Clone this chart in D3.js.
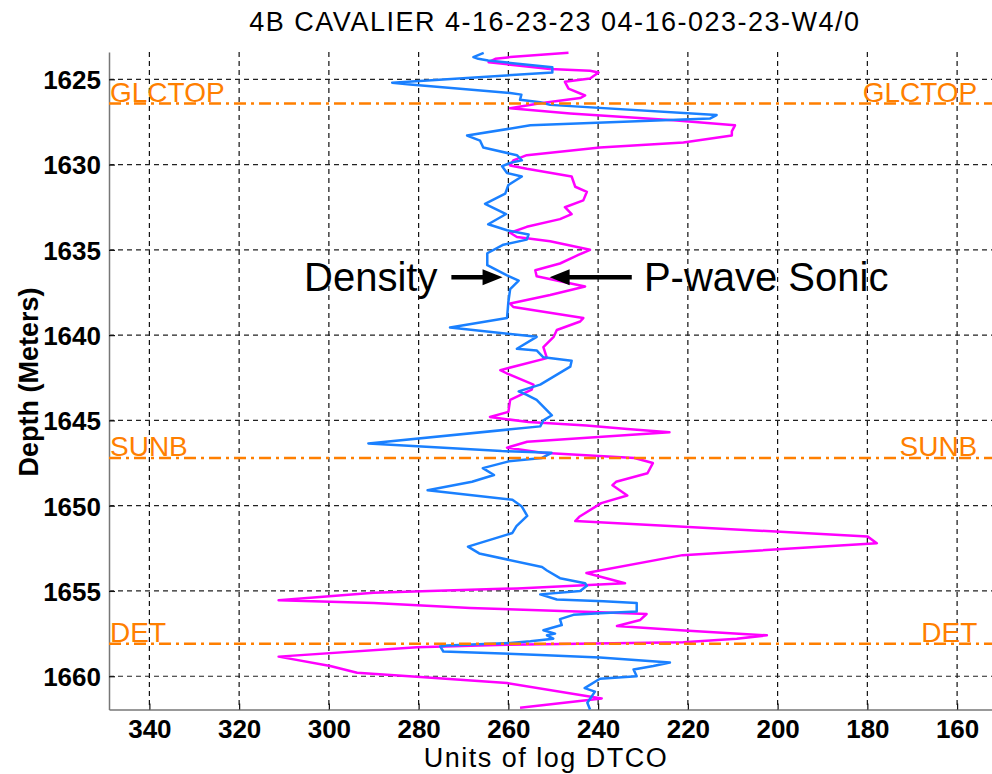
<!DOCTYPE html>
<html>
<head>
<meta charset="utf-8">
<script src="https://cdn.jsdelivr.net/npm/d3@7"></script>
<style>
  body { margin: 0; background: #fff; }
  svg { display: block; font-family: "Liberation Sans", Arial, Helvetica, sans-serif; }
</style>
</head>
<body>
<svg id="chart" width="992" height="774"></svg>
<script>
// density log (blue) - depth in m, value in log units
var densityDepth = [1623.45,1623.7,1623.8,1623.9,1624.3,1624.6,1625.2,1625.3,1625.8,1625.9,1626.2,1626.35,1626.5,1627.1,1627.3,1627.7,1628.3,1628.6,1629.0,1629.45,1629.75,1629.9,1630.1,1630.5,1630.7,1631.2,1631.7,1632.3,1632.9,1633.5,1633.85,1634.1,1634.4,1634.7,1635.2,1635.9,1636.5,1636.8,1637.3,1638.05,1639.0,1639.55,1640.1,1640.8,1640.9,1641.3,1641.5,1641.85,1642.9,1643.3,1643.5,1643.8,1644.7,1645.0,1645.35,1646.35,1646.8,1646.9,1647.2,1647.4,1647.8,1648.2,1648.6,1649.1,1649.65,1650.05,1650.6,1651.2,1651.6,1652.4,1652.8,1653.6,1653.8,1654.25,1654.55,1654.7,1655.0,1655.2,1655.5,1655.6,1655.7,1656.2,1656.3,1656.4,1656.65,1657.0,1657.3,1657.5,1657.6,1657.8,1657.95,1658.05,1658.2,1658.25,1658.55,1658.75,1658.9,1659.2,1659.4,1659.6,1660.0,1660.15,1660.7,1660.9,1661.55,1661.95];
var densityValue = [265.5,267.8,266.7,264.5,250.2,250.2,285.9,281.9,259.6,257.1,257.4,252.9,250.7,213.6,215.1,255.1,269.2,266.3,265.6,258.1,257.0,259.6,261.4,260.3,257.0,260.0,260.7,265.2,260.5,264.5,260.3,255.5,255.9,261.1,264.7,264.7,260.3,257.7,259.6,260.0,260.3,273.0,253.7,258.1,253.7,252.2,245.9,246.2,252.9,257.7,255.9,253.7,250.3,252.2,252.9,291.2,261.5,250.4,252.5,259.9,265.7,263.2,268.1,278.0,259.1,257.0,255.8,258.2,259.1,269.0,266.5,252.5,251.4,248.5,242.9,242.5,244.0,252.9,249.2,238.8,231.4,231.4,239.6,245.5,248.5,248.1,252.2,249.6,251.4,250.0,255.1,259.6,273.7,275.2,274.5,252.9,239.6,224.0,227.7,232.1,231.4,239.6,243.0,240.7,242.4,241.8];

// p-wave sonic log (magenta)
var sonicDepth = [1623.45,1623.7,1623.8,1624.0,1624.4,1624.5,1624.6,1624.95,1625.15,1625.55,1625.95,1626.1,1626.4,1626.7,1627.0,1627.4,1627.7,1628.05,1628.3,1628.7,1629.0,1629.45,1629.75,1630.05,1630.25,1630.7,1631.3,1631.6,1632.1,1632.5,1632.9,1633.2,1633.65,1634.0,1634.25,1634.5,1635.0,1635.3,1635.8,1636.2,1636.55,1637.15,1637.65,1638.15,1638.35,1639.0,1639.2,1639.7,1640.1,1640.7,1641.35,1642.05,1642.25,1642.9,1643.2,1643.8,1644.5,1644.8,1645.1,1645.3,1645.5,1645.7,1646.25,1646.6,1646.9,1647.2,1647.5,1648.1,1648.6,1648.8,1649.4,1649.85,1650.65,1650.9,1651.8,1652.2,1652.9,1653.95,1654.55,1654.85,1655.1,1655.55,1655.7,1656.0,1656.25,1656.35,1656.7,1657.05,1657.3,1657.6,1657.8,1658.0,1658.15,1658.3,1658.85,1659.4,1659.8,1660.05,1660.4,1661.3,1661.85];
var sonicValue = [246.6,259.6,262.9,264.4,250.7,241.8,239.9,241.8,247.4,246.6,242.9,244.0,252.9,259.6,246.2,223.2,209.5,210.2,210.2,221.0,239.6,255.9,258.9,259.6,255.9,245.9,245.1,242.5,243.3,247.4,245.9,248.5,255.9,259.6,258.1,250.7,241.8,244.4,248.5,254.0,253.7,242.9,250.7,259.6,258.9,243.3,244.0,249.2,249.9,252.2,251.4,261.8,260.3,254.4,254.8,259.6,260.0,264.1,255.5,242.6,233.5,224.1,255.8,260.3,252.5,231.9,227.8,229.0,236.0,236.8,233.5,239.3,244.2,245.1,180.0,177.9,221.2,242.6,234.0,258.0,290.0,311.2,290.0,268.5,239.6,229.2,230.6,235.8,221.7,202.4,209.1,221.0,260.3,280.4,311.2,299.7,293.7,279.6,260.3,239.2,257.4];

// formation tops
var topNames = ["GLCTOP", "SUNB", "DET"];
var topDepths = [1626.42, 1647.2, 1658.1];

var xTicks = [340, 320, 300, 280, 260, 240, 220, 200, 180, 160];
var yTicks = [1625, 1630, 1635, 1640, 1645, 1650, 1655, 1660];

var titleText = "4B CAVALIER 4-16-23-23 04-16-023-23-W4/0";

var svg = d3.select("#chart");

var x = d3.scaleLinear().domain([349, 152]).range([109, 993]);
var y = d3.scaleLinear().domain([1623.4, 1661.95]).range([52, 709.5]);

//grid lines
var grid = svg.append("g").attr("class", "grid");
grid.selectAll("line.vg").data(xTicks).enter().append("line")
    .attr("x1", function(d) { return x(d); })
    .attr("x2", function(d) { return x(d); })
    .attr("y1", y.range()[0])
    .attr("y2", y.range()[1])
    .attr("stroke", "#111")
    .attr("stroke-width", 1.2)
    .attr("stroke-dasharray", "5,4");
grid.selectAll("line.hg").data(yTicks).enter().append("line")
    .attr("y1", function(d) { return y(d); })
    .attr("y2", function(d) { return y(d); })
    .attr("x1", x.range()[0])
    .attr("x2", x.range()[1])
    .attr("stroke", "#222")
    .attr("stroke-width", 1.2)
    .attr("stroke-dasharray", "5,4");

//axes
var xAxis = svg.append("g")
    .attr("transform", "translate(0," + y.range()[1] + ")")
    .call(d3.axisBottom(x).tickValues(xTicks).tickFormat(d3.format("d")).tickSize(-6).tickPadding(10).tickSizeOuter(0));
var yAxis = svg.append("g")
    .attr("transform", "translate(" + x.range()[0] + ",0)")
    .call(d3.axisLeft(y).tickValues(yTicks).tickFormat(d3.format("d")).tickSize(-6).tickPadding(8).tickSizeOuter(0));

[xAxis, yAxis].forEach(function(a) {
    a.select(".domain").attr("stroke", "#777").attr("stroke-width", 1.5);
    a.selectAll(".tick line").attr("stroke", "#111").attr("stroke-width", 1.2);
    a.selectAll("text")
        .attr("fill", "#000")
        .style("font-size", "26px")
        .style("font-weight", "bold")
        .style("font-family", "'Liberation Sans', Arial, sans-serif");
});
xAxis.selectAll("text").attr("dy", "0.71em");
yAxis.selectAll("text").attr("dy", "0.36em");

//log curves
var line = d3.line()
    .x(function(d) { return x(d[1]); })
    .y(function(d) { return y(d[0]); });

svg.append("path")
    .datum(d3.zip(sonicDepth, sonicValue))
    .attr("d", line)
    .attr("fill", "none")
    .attr("stroke", "#ff00ff")
    .attr("stroke-width", 2.5)
    .attr("stroke-linejoin", "round");

svg.append("path")
    .datum(d3.zip(densityDepth, densityValue))
    .attr("d", line)
    .attr("fill", "none")
    .attr("stroke", "#1a80ff")
    .attr("stroke-width", 2.5)
    .attr("stroke-linejoin", "round");

//formation tops
var tops = svg.append("g").attr("class", "tops");
tops.selectAll("line").data(topDepths).enter().append("line")
    .attr("x1", x.range()[0])
    .attr("x2", x.range()[1])
    .attr("y1", function(d) { return y(d); })
    .attr("y2", function(d) { return y(d); })
    .attr("stroke", "#ff7f00")
    .attr("stroke-width", 2.5)
    .attr("stroke-dasharray", "12,5,3,5");
tops.selectAll("text.left").data(topNames).enter().append("text")
    .attr("x", x.range()[0] + 1)
    .attr("y", function(d, i) { return y(topDepths[i]) - 2; })
    .attr("fill", "#ff7f00")
    .style("font-size", "28px")
    .text(function(d) { return d; });
tops.selectAll("text.right").data(topNames).enter().append("text")
    .attr("x", x(155.5))
    .attr("y", function(d, i) { return y(topDepths[i]) - 2; })
    .attr("text-anchor", "end")
    .attr("fill", "#ff7f00")
    .style("font-size", "28px")
    .text(function(d) { return d; });

//annotations with arrows
function arrow(x1, x2, yy) {
    var dir = x2 > x1 ? 1 : -1;
    svg.append("line")
        .attr("x1", x1).attr("x2", x2 - dir * 16)
        .attr("y1", yy).attr("y2", yy)
        .attr("stroke", "#000").attr("stroke-width", 4.5);
    svg.append("path")
        .attr("d", "M" + x2 + "," + yy + "L" + (x2 - dir * 20) + "," + (yy - 8) + "L" + (x2 - dir * 20) + "," + (yy + 8) + "Z")
        .attr("fill", "#000");
}
arrow(x(272.7), x(261.3), y(1636.6));
arrow(x(232.5), x(250.8), y(1636.6));

svg.append("text")
    .attr("x", x(275.8))
    .attr("y", y(1637.4))
    .attr("text-anchor", "end")
    .style("font-size", "40px")
    .text("Density");
svg.append("text")
    .attr("x", x(229.8))
    .attr("y", y(1637.4))
    .style("font-size", "40px")
    .text("P-wave Sonic");

//titles
svg.append("text")
    .attr("x", 555)
    .attr("y", 31)
    .attr("text-anchor", "middle")
    .style("font-size", "27px")
    .style("letter-spacing", "1.5px")
    .text(titleText);

svg.append("text")
    .attr("x", 546)
    .attr("y", 767)
    .attr("text-anchor", "middle")
    .style("font-size", "27px")
    .style("letter-spacing", "1.5px")
    .text("Units of log DTCO");

svg.append("text")
    .attr("transform", "translate(38,382) rotate(-90)")
    .attr("text-anchor", "middle")
    .style("font-size", "27px")
    .style("font-weight", "bold")
    .text("Depth (Meters)");
</script>
</body>
</html>
